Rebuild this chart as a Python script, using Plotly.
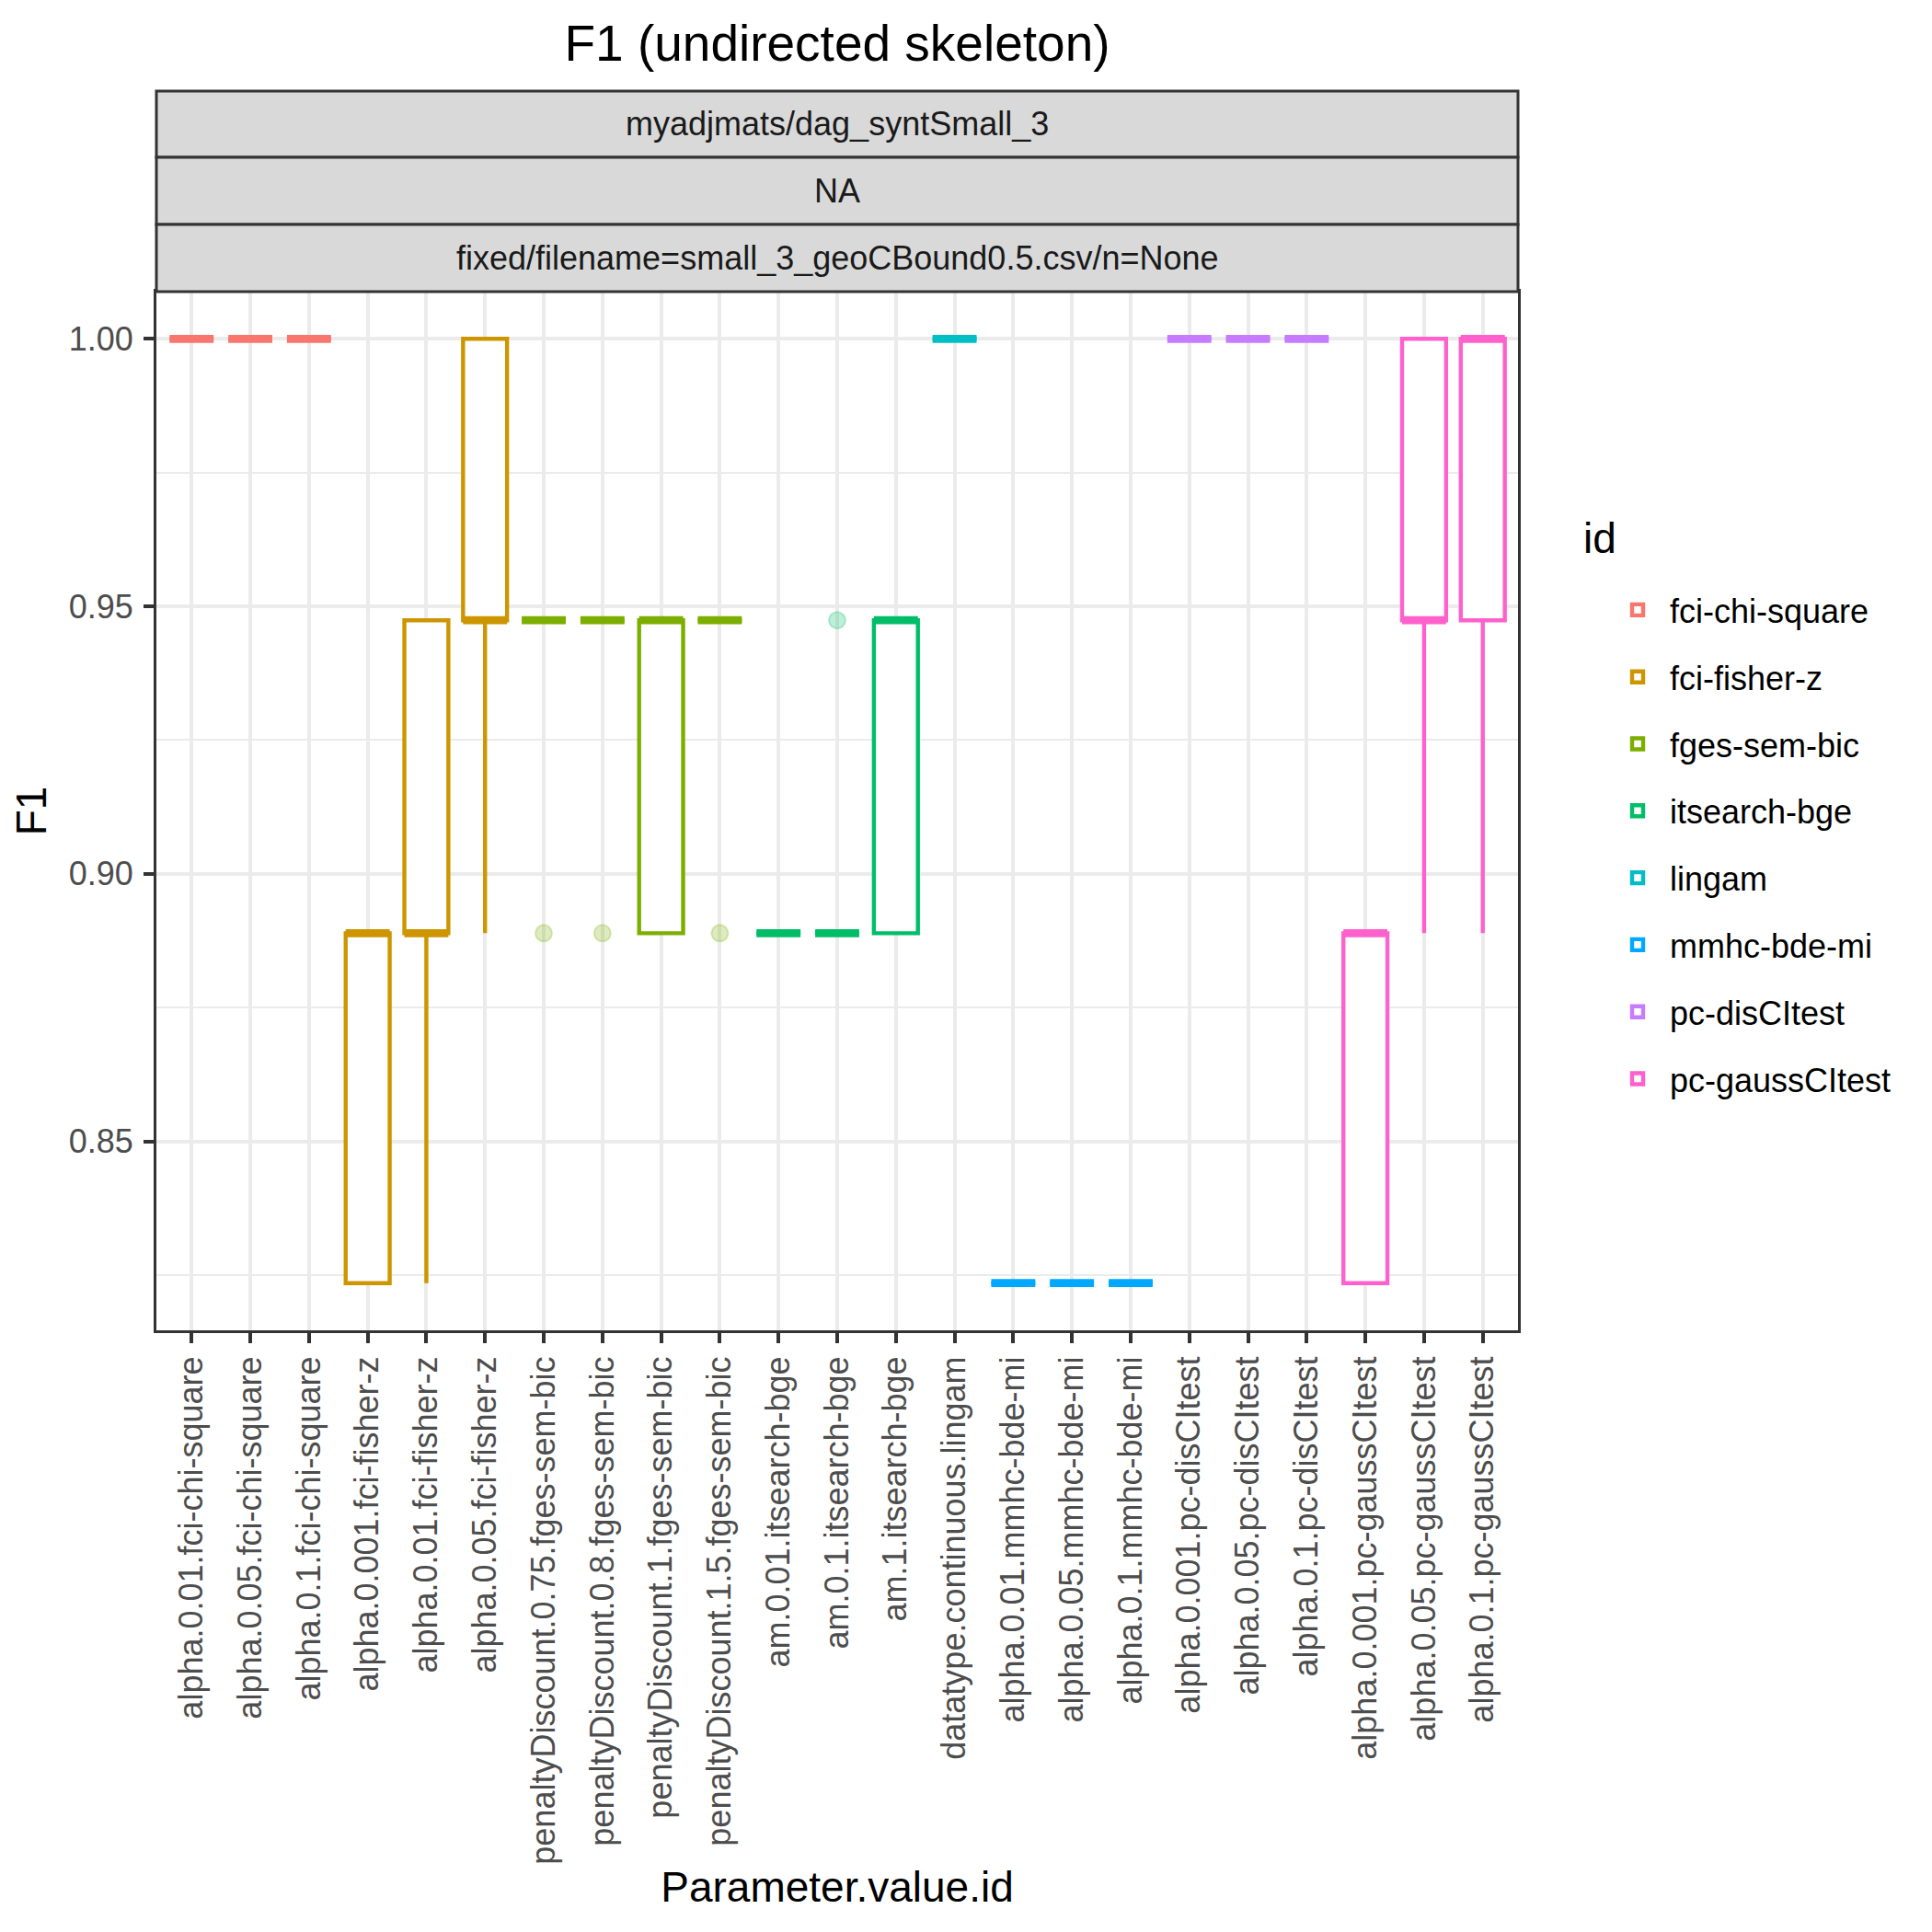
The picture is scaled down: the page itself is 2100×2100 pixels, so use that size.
import plotly.graph_objects as go

# ---------------- data ----------------
categories = [
    "alpha.0.01.fci-chi-square", "alpha.0.05.fci-chi-square", "alpha.0.1.fci-chi-square",
    "alpha.0.001.fci-fisher-z", "alpha.0.01.fci-fisher-z", "alpha.0.05.fci-fisher-z",
    "penaltyDiscount.0.75.fges-sem-bic", "penaltyDiscount.0.8.fges-sem-bic",
    "penaltyDiscount.1.fges-sem-bic", "penaltyDiscount.1.5.fges-sem-bic",
    "am.0.01.itsearch-bge", "am.0.1.itsearch-bge", "am.1.itsearch-bge",
    "datatype.continuous.lingam",
    "alpha.0.01.mmhc-bde-mi", "alpha.0.05.mmhc-bde-mi", "alpha.0.1.mmhc-bde-mi",
    "alpha.0.001.pc-disCItest", "alpha.0.05.pc-disCItest", "alpha.0.1.pc-disCItest",
    "alpha.0.001.pc-gaussCItest", "alpha.0.05.pc-gaussCItest", "alpha.0.1.pc-gaussCItest",
]
ids = [
    "fci-chi-square", "fci-chi-square", "fci-chi-square",
    "fci-fisher-z", "fci-fisher-z", "fci-fisher-z",
    "fges-sem-bic", "fges-sem-bic", "fges-sem-bic", "fges-sem-bic",
    "itsearch-bge", "itsearch-bge", "itsearch-bge",
    "lingam",
    "mmhc-bde-mi", "mmhc-bde-mi", "mmhc-bde-mi",
    "pc-disCItest", "pc-disCItest", "pc-disCItest",
    "pc-gaussCItest", "pc-gaussCItest", "pc-gaussCItest",
]
lower_whisker = [1.0, 1.0, 1.0, 0.8235, 0.8235, 0.8889, 0.9474, 0.9474, 0.8889, 0.9474,
                 0.8889, 0.8889, 0.8889, 1.0, 0.8235, 0.8235, 0.8235, 1.0, 1.0, 1.0,
                 0.8235, 0.8889, 0.8889]
q1 = [1.0, 1.0, 1.0, 0.8235, 0.8889, 0.9474, 0.9474, 0.9474, 0.8889, 0.9474,
      0.8889, 0.8889, 0.8889, 1.0, 0.8235, 0.8235, 0.8235, 1.0, 1.0, 1.0,
      0.8235, 0.9474, 0.9474]
median = [1.0, 1.0, 1.0, 0.8889, 0.8889, 0.9474, 0.9474, 0.9474, 0.9474, 0.9474,
          0.8889, 0.8889, 0.9474, 1.0, 0.8235, 0.8235, 0.8235, 1.0, 1.0, 1.0,
          0.8889, 0.9474, 1.0]
q3 = [1.0, 1.0, 1.0, 0.8889, 0.9474, 1.0, 0.9474, 0.9474, 0.9474, 0.9474,
      0.8889, 0.8889, 0.9474, 1.0, 0.8235, 0.8235, 0.8235, 1.0, 1.0, 1.0,
      0.8889, 1.0, 1.0]
upper_whisker = [1.0, 1.0, 1.0, 0.8889, 0.9474, 1.0, 0.9474, 0.9474, 0.9474, 0.9474,
                 0.8889, 0.8889, 0.9474, 1.0, 0.8235, 0.8235, 0.8235, 1.0, 1.0, 1.0,
                 0.8889, 1.0, 1.0]
outlier_category = ["penaltyDiscount.0.75.fges-sem-bic", "penaltyDiscount.0.8.fges-sem-bic",
                    "penaltyDiscount.1.5.fges-sem-bic", "am.0.1.itsearch-bge"]
outlier_value = [0.8889, 0.8889, 0.8889, 0.9474]

id_order = ["fci-chi-square", "fci-fisher-z", "fges-sem-bic", "itsearch-bge",
            "lingam", "mmhc-bde-mi", "pc-disCItest", "pc-gaussCItest"]
id_colors = ["#F8766D", "#CD9600", "#7CAE00", "#00BE67",
             "#00BFC4", "#00A9FF", "#C77CFF", "#FF61CC"]

strip_labels = ["myadjmats/dag_syntSmall_3", "NA",
                "fixed/filename=small_3_geoCBound0.5.csv/n=None"]

# ---------------- styling / geometry ----------------
OFF = 8                      # page body margin of the html page
W = H = 2100 - OFF
PL, PR, PT, PB = 170 - OFF, 1650 - OFF, 317 - OFF, 1446 - OFF   # plot area in px
STRIP_EDGES = [e - OFF for e in (99, 171, 244, 317)]
BOX_W = 0.75
LW = 4.4
FONT = "Liberation Sans, Arial, Helvetica, sans-serif"
color_of = dict(zip(id_order, id_colors))


def hex_rgba(h, a):
    h = h.lstrip("#")
    return "rgba(%d,%d,%d,%.2f)" % (int(h[0:2], 16), int(h[2:4], 16), int(h[4:6], 16), a)


def py(p):  # px -> paper y
    return (PB - p) / (PB - PT)


def px(p):  # px -> paper x
    return (p - PL) / (PR - PL)


fig = go.Figure()
shown = set()
pos = list(range(len(categories)))

for i, cat in enumerate(categories):
    gid = ids[i]
    col = color_of[gid]
    fig.add_trace(go.Box(
        x=[pos[i]], q1=[q1[i]], median=[median[i]], q3=[q3[i]],
        lowerfence=[lower_whisker[i]], upperfence=[upper_whisker[i]],
        width=BOX_W, whiskerwidth=0, boxpoints=False,
        fillcolor="white", line=dict(color=col, width=LW),
        name=gid, legendgroup=gid, showlegend=gid not in shown,
        hoverinfo="skip",
    ))
    shown.add(gid)
    # thicker median line (ggplot fatten = 2)
    fig.add_trace(go.Scatter(
        x=[pos[i] - BOX_W / 2, pos[i] + BOX_W / 2], y=[median[i], median[i]],
        mode="lines", line=dict(color=col, width=2 * LW),
        legendgroup=gid, showlegend=False, hoverinfo="skip",
    ))

# outliers
for gid in id_order:
    xs = [categories.index(c) for c in outlier_category if ids[categories.index(c)] == gid]
    ys = [v for c, v in zip(outlier_category, outlier_value) if ids[categories.index(c)] == gid]
    if xs:
        col = color_of[gid]
        fig.add_trace(go.Scatter(
            x=xs, y=ys, mode="markers",
            marker=dict(size=18, color=hex_rgba(col, 0.25),
                        line=dict(color=hex_rgba(col, 0.25), width=2)),
            legendgroup=gid, showlegend=False, hoverinfo="skip",
        ))

lo = 0.8235
hi = 1.0
pad = (hi - lo) * 0.05

# strips
shapes = []
annotations = []
for k, lab in enumerate(strip_labels):
    y0 = py(STRIP_EDGES[k + 1])
    y1 = py(STRIP_EDGES[k])
    shapes.append(dict(type="rect", xref="paper", yref="paper", x0=0, x1=1, y0=y0, y1=y1,
                       fillcolor="#D9D9D9", line=dict(color="#333333", width=3), layer="above"))
    annotations.append(dict(text=lab, xref="paper", yref="paper", x=0.5, y=(y0 + y1) / 2,
                            showarrow=False, xanchor="center", yanchor="middle",
                            font=dict(size=36, color="#1A1A1A", family=FONT)))

# legend title
annotations.append(dict(text="id", xref="paper", yref="paper", x=px(1719 - OFF), y=py(585 - OFF),
                        showarrow=False, xanchor="left", yanchor="middle",
                        font=dict(size=46, color="black", family=FONT)))

fig.update_layout(
    width=W, height=H,
    margin=dict(l=PL, r=W - PR, t=PT, b=H - PB, autoexpand=False),
    paper_bgcolor="white", plot_bgcolor="white",
    font=dict(family=FONT, size=36, color="black"),
    title=dict(text="F1 (undirected skeleton)", x=0.5, xref="paper", xanchor="center",
               y=1 - (47 - OFF) / H, yref="container", yanchor="middle",
               font=dict(size=55, color="black", family=FONT)),
    boxmode="overlay",
    showlegend=True,
    legend=dict(
        font=dict(size=36, color="black", family=FONT),
        x=px(1745 - OFF), xanchor="left",
        y=py(633 - OFF), yanchor="top",
        bgcolor="rgba(0,0,0,0)", borderwidth=0,
        tracegroupgap=23, itemwidth=60, traceorder="grouped",
    ),
    shapes=shapes,
    annotations=annotations,
)

fig.update_xaxes(
    range=[-0.6, len(categories) - 1 + 0.6],
    tickmode="array", tickvals=pos, ticktext=categories,
    tickangle=-90, tickfont=dict(size=36, color="#4D4D4D", family=FONT),
    ticks="outside", ticklen=11, tickwidth=4, tickcolor="#333333",
    showgrid=True, gridcolor="#EBEBEB", gridwidth=LW,
    showline=True, linecolor="#333333", linewidth=3, mirror=True,
    zeroline=False,
    title=dict(text="Parameter.value.id", font=dict(size=46, color="black", family=FONT),
               standoff=10),
    automargin=False,
)
fig.update_yaxes(
    range=[lo - pad, hi + pad],
    tickmode="array", tickvals=[0.85, 0.90, 0.95, 1.00],
    ticktext=["0.85", "0.90", "0.95", "1.00"],
    tickfont=dict(size=36, color="#4D4D4D", family=FONT),
    ticks="outside", ticklen=11, tickwidth=4, tickcolor="#333333",
    ticklabelstandoff=4,
    showgrid=True, gridcolor="#EBEBEB", gridwidth=LW,
    minor=dict(tickmode="array", tickvals=[0.825, 0.875, 0.925, 0.975],
               showgrid=True, gridcolor="#EBEBEB", gridwidth=LW / 2, ticks=""),
    showline=True, linecolor="#333333", linewidth=3, mirror=True,
    zeroline=False,
    title=dict(text="F1", font=dict(size=46, color="black", family=FONT), standoff=10),
    automargin=False,
)

fig.write_html("out.html")
